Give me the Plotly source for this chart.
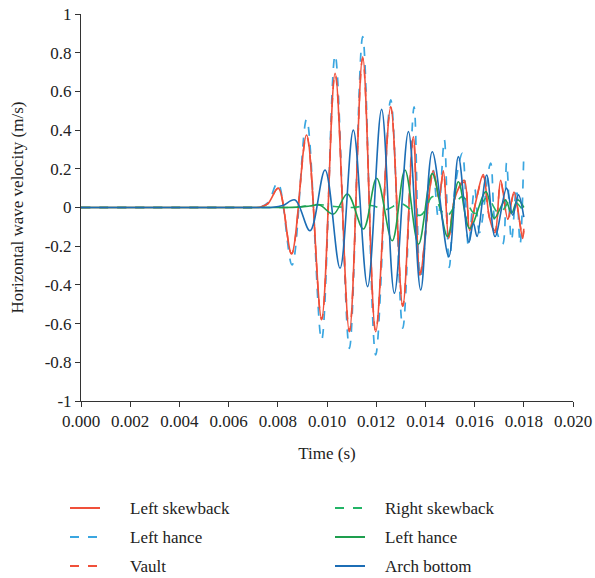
import plotly.graph_objects as go

# ---------------- data ----------------
t_left_skewback = [0.0, 0.0060, 0.0070, 0.0073, 0.0076, 0.00802, 0.00856, 0.00917, 0.00978, 0.01033, 0.01091, 0.01145,
                   0.01198, 0.01259, 0.01308, 0.01351, 0.01378, 0.01432, 0.01455, 0.01473, 0.01495,
                   0.01520, 0.01558, 0.01580, 0.01605, 0.01635, 0.01660, 0.01683, 0.01706, 0.01735,
                   0.01760, 0.01795, 0.01800]
v_left_skewback = [0.0, 0.0, 0.0, 0.002, 0.02, 0.099, -0.237, 0.375, -0.573, 0.693, -0.642, 0.779,
                   -0.642, 0.518, -0.509, 0.366, -0.35, 0.19, 0.05, 0.19, -0.16,
                   0.05, 0.14, -0.12, 0.03, 0.17, -0.05, -0.13, 0.14, -0.06,
                   0.08, -0.16, -0.12]

t_vault = [0.0, 0.0060, 0.0070, 0.0073, 0.0076, 0.00802, 0.00856, 0.00917, 0.00978, 0.01033, 0.01091, 0.01145,
           0.01198, 0.01259, 0.01308, 0.01351, 0.01378, 0.01432, 0.01455, 0.01473, 0.01495,
           0.01520, 0.01558, 0.01580, 0.01605, 0.01635, 0.01660, 0.01683, 0.01706, 0.01735,
           0.01760, 0.01795, 0.01800]
v_vault = [0.0, 0.0, 0.0, 0.002, 0.02, 0.10, -0.24, 0.37, -0.58, 0.69, -0.64, 0.77,
           -0.64, 0.52, -0.51, 0.36, -0.34, 0.18, 0.05, 0.18, -0.15,
           0.05, 0.13, -0.11, 0.03, 0.16, -0.05, -0.12, 0.13, -0.06,
           0.07, -0.15, -0.11]

t_left_hance_dash = [0.0, 0.0060, 0.0070, 0.0073, 0.0076, 0.0080, 0.00858, 0.00917, 0.00978, 0.01033, 0.01091, 0.01145,
                     0.01198, 0.01259, 0.01308, 0.01354, 0.01380, 0.01430, 0.01452, 0.01477, 0.01497,
                     0.01520, 0.01550, 0.01575, 0.01600, 0.01620, 0.01665, 0.01685, 0.01714, 0.01730,
                     0.01750, 0.01770, 0.01785, 0.01800]
v_left_hance_dash = [0.0, 0.0, 0.0, 0.002, 0.025, 0.128, -0.297, 0.456, -0.685, 0.788, -0.728, 0.883,
                     -0.762, 0.556, -0.624, 0.52, -0.36, 0.2, -0.05, 0.35, -0.31,
                     0.1, 0.28, -0.2, 0.1, -0.13, 0.23, -0.1, -0.19, 0.23,
                     -0.17, 0.1, -0.19, 0.28]

t_arch_bottom = [0.0, 0.0065, 0.0074, 0.0078, 0.0082, 0.0087, 0.00931, 0.00992, 0.01053, 0.01107, 0.01165, 0.01222,
                 0.01274, 0.01331, 0.01381, 0.01428, 0.01495, 0.01534, 0.01577, 0.01595, 0.01610,
                 0.01649, 0.01683, 0.01730, 0.01755, 0.01778, 0.01800]
v_arch_bottom = [0.0, 0.0, 0.0, 0.001, 0.01, 0.039, -0.12, 0.194, -0.314, 0.40, -0.409, 0.507,
                 -0.443, 0.392, -0.426, 0.288, -0.254, 0.263, -0.18, -0.08, -0.15,
                 0.168, -0.15, 0.10, -0.04, 0.065, -0.05]

t_left_hance_solid = [0.0, 0.0075, 0.0083, 0.0088, 0.0093, 0.0097, 0.01026, 0.01083, 0.01148, 0.01202, 0.01265, 0.01317,
                      0.01372, 0.01428, 0.01490, 0.01534, 0.01580, 0.01646, 0.01680, 0.01725, 0.01750,
                      0.01775, 0.01800]
v_left_hance_solid = [0.0, 0.0, 0.0, 0.002, 0.008, 0.013, -0.034, 0.07, -0.111, 0.151, -0.172, 0.194,
                      -0.19, 0.175, -0.15, 0.133, -0.108, 0.082, -0.056, 0.039, -0.03,
                      0.04, 0.0]

t_right_skewback = [0.0, 0.0075, 0.0083, 0.0088, 0.0096, 0.0103, 0.0110, 0.0118, 0.0124, 0.0130, 0.0138, 0.0143,
                    0.01485, 0.0155, 0.0160, 0.0165, 0.0170, 0.0175, 0.0180]
v_right_skewback = [0.0, 0.0, 0.0, 0.002, 0.015, 0.005, 0.0, 0.01, -0.01, 0.02, -0.04, 0.056,
                    -0.045, 0.056, -0.03, 0.05, -0.03, 0.04, -0.02]

x_tickvals = [0.000, 0.002, 0.004, 0.006, 0.008, 0.010, 0.012, 0.014, 0.016, 0.018, 0.020]
y_tickvals = [1, 0.8, 0.6, 0.4, 0.2, 0, -0.2, -0.4, -0.6, -0.8, -1]
y_ticktext = ["1", "0.8", "0.6", "0.4", "0.2", "0", "-0.2", "-0.4", "-0.6", "-0.8", "-1"]

# ---------------- styling ----------------
RED = "#F0503A"
LIGHT_BLUE = "#3AA6E0"
GREEN_DASH = "#22B466"
GREEN = "#1E9E4E"
DARK_BLUE = "#1C6DB5"
FONT = "Liberation Serif"
FS = 17

W, H = 595, 578
ML, MR, MT, MB = 81, 22, 14, 177
PW, PH = W - ML - MR, H - MT - MB

fig = go.Figure()

series = []  # (name, color, dash, column, row, width)

def add(x, y, name, color, dash, col, row, width=1.6):
    fig.add_trace(go.Scatter(
        x=x, y=y, name=name, mode="lines", showlegend=False,
        line=dict(color=color, dash=dash, width=width, shape="spline", smoothing=1.0),
    ))
    series.append((name, color, dash, col, row, width))

# drawing order (bottom -> top)
add(t_left_hance_dash, v_left_hance_dash, "Left hance", LIGHT_BLUE, "dash", 0, 1, 1.7)
add(t_vault, v_vault, "Vault", RED, "dash", 0, 2)
add(t_left_skewback, v_left_skewback, "Left skewback", RED, "solid", 0, 0)
add(t_right_skewback, v_right_skewback, "Right skewback", GREEN_DASH, "dash", 1, 0)
add(t_left_hance_solid, v_left_hance_solid, "Left hance", GREEN, "solid", 1, 1)
add(t_arch_bottom, v_arch_bottom, "Arch bottom", DARK_BLUE, "solid", 1, 2)

# ---------------- legend (two columns, below the plot) ----------------
def px2paper_x(px):
    return (px - ML) / PW

def px2paper_y(py):
    return (H - MB - py) / PH

col_line_x = [(70, 100), (335, 365)]
col_text_x = [128, 383]
row_y = [508, 537, 566]

shapes, annotations = [], []
for name, color, dash, col, row, width in series:
    yy = px2paper_y(row_y[row])
    x0, x1 = col_line_x[col]
    shapes.append(dict(type="line", xref="paper", yref="paper",
                       x0=px2paper_x(x0), x1=px2paper_x(x1), y0=yy, y1=yy,
                       line=dict(color=color, width=2, dash=dash)))
    annotations.append(dict(text=name, xref="paper", yref="paper",
                            x=px2paper_x(col_text_x[col]), y=yy,
                            xanchor="left", yanchor="middle", showarrow=False,
                            font=dict(family=FONT, size=FS, color="#222222")))

axis_common = dict(
    showline=True, linecolor="#333333", linewidth=1,
    ticks="outside", ticklen=5, tickcolor="#333333",
    showgrid=False, zeroline=False, automargin=False,
    tickfont=dict(family=FONT, size=FS, color="#222222"),
)

fig.update_layout(
    width=W, height=H,
    margin=dict(l=ML, r=MR, t=MT, b=MB),
    paper_bgcolor="white", plot_bgcolor="white",
    font=dict(family=FONT, size=FS, color="#222222"),
    xaxis=dict(range=[0, 0.020], tickvals=x_tickvals, tickformat=".3f",
               title=dict(text="Time (s)", font=dict(family=FONT, size=FS), standoff=16),
               **axis_common),
    yaxis=dict(range=[-1, 1], tickvals=y_tickvals, ticktext=y_ticktext,
               title=dict(text="Horizontal wave velocity (m/s)", font=dict(family=FONT, size=FS), standoff=16),
               **axis_common),
    shapes=shapes,
    annotations=annotations,
    showlegend=False,
)

fig.write_html("out.html", config={"displayModeBar": False},
               post_script="document.body.style.margin='0';document.body.style.overflow='hidden';")
